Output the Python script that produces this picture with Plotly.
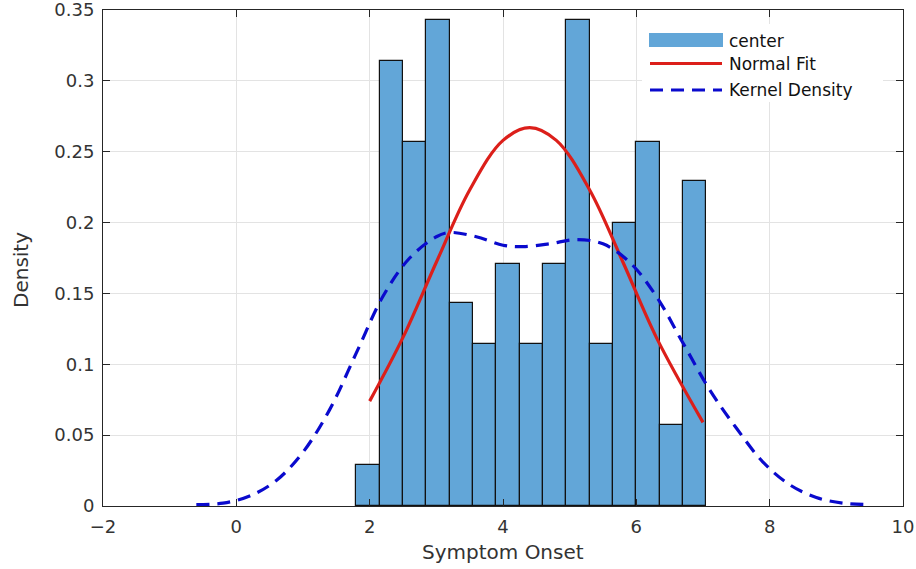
import plotly.graph_objects as go

# ---- data ----
bin_edges = [1.8, 2.15, 2.5, 2.85, 3.2, 3.55, 3.9, 4.25, 4.6, 4.95, 5.3, 5.65, 6.0, 6.35, 6.7, 7.05]
density = [0.029, 0.314, 0.257, 0.343, 0.143, 0.114, 0.171, 0.114, 0.171, 0.343,
           0.114, 0.200, 0.257, 0.057, 0.229]

normal_x = [2.0, 2.5, 3.0, 3.5, 4.0, 4.4, 4.8, 5.3, 5.8, 6.3, 7.0]
normal_y = [0.074, 0.119, 0.172, 0.223, 0.258, 0.267, 0.258, 0.223, 0.172, 0.119, 0.059]

kde_x = [-0.6, -0.2, 0.2, 0.6, 1.0, 1.4, 1.8, 2.2, 2.6, 3.0, 3.2, 3.6, 4.0, 4.3, 4.7,
         5.1, 5.5, 5.9, 6.3, 6.7, 7.1, 7.5, 7.9, 8.3, 8.7, 9.1, 9.5]
kde_y = [0.001, 0.002, 0.007, 0.018, 0.038, 0.068, 0.108, 0.148, 0.175, 0.190, 0.193,
         0.190, 0.184, 0.183, 0.185, 0.188, 0.185, 0.172, 0.148, 0.115, 0.082, 0.055,
         0.031, 0.015, 0.006, 0.002, 0.001]

x_ticks = [-2, 0, 2, 4, 6, 8, 10]
y_ticks = [0, 0.05, 0.1, 0.15, 0.2, 0.25, 0.3, 0.35]
y_ticktext = ["0", "0.05", "0.1", "0.15", "0.2", "0.25", "0.3", "0.35"]

legend_labels = ["center", "Normal Fit", "Kernel Density"]
x_title = "Symptom Onset"
y_title = "Density"

BAR_COLOR = "#62A6D8"
RED = "#DC1F1A"
BLUE = "#0A0ACD"
FONT = "DejaVu Sans"
TXT = "#333333"

centers = [(a + b) / 2 for a, b in zip(bin_edges[:-1], bin_edges[1:])]
widths = [b - a for a, b in zip(bin_edges[:-1], bin_edges[1:])]

fig = go.Figure()
fig.add_trace(go.Bar(x=centers, y=density, width=widths, marker_color=BAR_COLOR,
                     marker_line_color="#111111", marker_line_width=1.2,
                     name=legend_labels[0], showlegend=False))
fig.add_trace(go.Scatter(x=normal_x, y=normal_y, mode="lines", line_shape="spline",
                         line=dict(color=RED, width=3.2), name=legend_labels[1],
                         showlegend=False))
fig.add_trace(go.Scatter(x=kde_x, y=kde_y, mode="lines", line_shape="spline",
                         line=dict(color=BLUE, width=3.2, dash="13px,8px"),
                         name=legend_labels[2], showlegend=False))

# plot area in pixels: left 103, right 903, top 10, bottom 506
L, R, T, B = 103, 903, 10, 506
def px(xp):
    return (xp - L) / (R - L)
def py(yp):
    return (B - yp) / (B - T)

shapes = [
    dict(type="rect", xref="paper", yref="paper", x0=px(642), x1=px(883), y0=py(102), y1=py(24),
         fillcolor="white", line_width=0, layer="above"),
    dict(type="rect", xref="paper", yref="paper", x0=px(649), x1=px(723), y0=py(47), y1=py(33),
         fillcolor=BAR_COLOR, line_width=0, layer="above"),
    dict(type="line", xref="paper", yref="paper", x0=px(650), x1=px(722), y0=py(63.5), y1=py(63.5),
         line=dict(color=RED, width=3.2), layer="above"),
    dict(type="line", xref="paper", yref="paper", x0=px(650), x1=px(722), y0=py(90), y1=py(90),
         line=dict(color=BLUE, width=3.2, dash="13px,8px"), layer="above"),
]
annotations = []
for lab, yy in zip(legend_labels, [41, 63.5, 90]):
    annotations.append(dict(text=lab, xref="paper", yref="paper", x=px(727), y=py(yy),
                            xanchor="left", yanchor="middle", showarrow=False,
                            font=dict(family=FONT, size=17, color="#111111")))
annotations.append(dict(text=x_title, xref="paper", yref="paper", x=px(503), y=py(552),
                        xanchor="center", yanchor="middle", showarrow=False,
                        font=dict(family=FONT, size=20, color=TXT)))
annotations.append(dict(text=y_title, xref="paper", yref="paper", x=px(21), y=py(270),
                        xanchor="center", yanchor="middle", showarrow=False, textangle=-90,
                        font=dict(family=FONT, size=20, color=TXT)))

fig.update_layout(
    width=916, height=569,
    margin=dict(l=L, r=916 - R, t=T, b=569 - B, autoexpand=False),
    paper_bgcolor="white", plot_bgcolor="white",
    shapes=shapes, annotations=annotations,
    bargap=0, showlegend=False,
    font=dict(family=FONT, color=TXT),
)
fig.update_xaxes(range=[-2, 10], tickvals=x_ticks, ticks="inside", ticklen=7,
                 tickcolor="#262626", showline=True, linecolor="#262626", linewidth=1,
                 mirror="ticks", showgrid=True, gridcolor="#e3e3e3", gridwidth=1,
                 zeroline=False, tickfont=dict(family=FONT, size=18, color=TXT),
                 ticklabelstandoff=4, automargin=False, ticklabeloverflow="allow")
fig.update_yaxes(range=[0, 0.35001], tickvals=y_ticks, ticktext=y_ticktext, ticks="inside",
                 ticklen=7, tickcolor="#262626", showline=True, linecolor="#262626",
                 linewidth=1, mirror="ticks", showgrid=True, gridcolor="#e3e3e3",
                 gridwidth=1, zeroline=False,
                 tickfont=dict(family=FONT, size=18, color=TXT), ticklabelstandoff=4,
                 automargin=False, ticklabeloverflow="allow")

fig.write_html("out.html")
